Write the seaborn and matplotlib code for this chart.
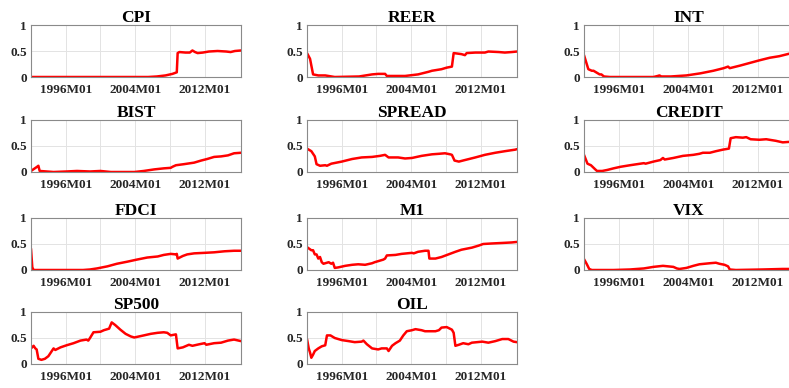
import matplotlib
matplotlib.use("Agg")
import matplotlib.pyplot as plt
import seaborn as sns
import pandas as pd

# ---- data (decimal years, values) ----
titles = ["CPI", "REER", "INT", "BIST", "SPREAD", "CREDIT", "FDCI", "M1", "VIX", "SP500", "OIL"]

cpi_x = [1992.0, 2005.5, 2006.5, 2007.5, 2008.3, 2008.8, 2008.9, 2009.1, 2009.8, 2010.3, 2010.6, 2010.9, 2011.2, 2011.8, 2012.5, 2013.5, 2014.5, 2015.0, 2015.5, 2016.2]
cpi_y = [0.0, 0.0, 0.01, 0.03, 0.06, 0.09, 0.46, 0.48, 0.47, 0.47, 0.51, 0.48, 0.46, 0.47, 0.49, 0.50, 0.49, 0.48, 0.50, 0.51]

reer_x = [1992.0, 1992.35, 1992.7, 1993.3, 1994.1, 1995.2, 1998.0, 1999.5, 2000.2, 2001.0, 2001.2, 2003.3, 2004.8, 2006.0, 2006.4, 2007.5, 2008.1, 2008.7, 2008.9, 2009.8, 2010.2, 2010.4, 2011.4, 2012.5, 2012.9, 2014.1, 2014.8, 2015.6, 2016.2]
reer_y = [0.46, 0.35, 0.05, 0.03, 0.03, 0.0, 0.01, 0.05, 0.06, 0.06, 0.02, 0.02, 0.05, 0.10, 0.12, 0.15, 0.18, 0.20, 0.46, 0.44, 0.42, 0.46, 0.47, 0.47, 0.49, 0.48, 0.47, 0.48, 0.49]

int_x = [1992.0, 1992.5, 1992.9, 1993.1, 1993.5, 1993.8, 1994.0, 1994.3, 1995.0, 2000.0, 2000.5, 2000.7, 2000.9, 2002.0, 2003.8, 2005.4, 2006.9, 2008.1, 2008.6, 2008.8, 2010.0, 2011.1, 2012.2, 2013.4, 2014.5, 2015.7, 2016.2]
int_y = [0.42, 0.15, 0.12, 0.12, 0.08, 0.05, 0.05, 0.01, 0.0, 0.0, 0.02, 0.03, 0.01, 0.01, 0.03, 0.07, 0.12, 0.17, 0.20, 0.17, 0.22, 0.27, 0.32, 0.37, 0.40, 0.45, 0.47]

bist_x = [1992.0, 1992.7, 1992.85, 1993.0, 1993.8, 1994.6, 1996.1, 1997.3, 1998.8, 2000.0, 2001.2, 2003.9, 2005.0, 2006.2, 2007.3, 2008.1, 2008.3, 2008.7, 2009.6, 2010.8, 2011.6, 2012.3, 2013.1, 2013.9, 2014.7, 2015.4, 2016.2]
bist_y = [0.02, 0.10, 0.12, 0.02, 0.01, 0.0, 0.01, 0.02, 0.01, 0.02, 0.0, 0.0, 0.02, 0.05, 0.07, 0.08, 0.10, 0.13, 0.15, 0.18, 0.22, 0.25, 0.29, 0.30, 0.32, 0.36, 0.37]

spread_x = [1992.0, 1992.5, 1992.9, 1993.1, 1993.5, 1994.1, 1994.3, 1994.8, 1996.0, 1997.2, 1998.3, 1999.5, 2000.4, 2001.0, 2001.4, 2002.5, 2003.3, 2004.1, 2005.2, 2006.4, 2007.2, 2007.9, 2008.5, 2008.7, 2009.0, 2009.5, 2010.2, 2011.4, 2012.5, 2013.7, 2014.8, 2016.0, 2016.2]
spread_y = [0.45, 0.40, 0.30, 0.15, 0.12, 0.13, 0.12, 0.16, 0.20, 0.25, 0.28, 0.29, 0.31, 0.33, 0.28, 0.28, 0.26, 0.27, 0.31, 0.34, 0.35, 0.36, 0.34, 0.33, 0.22, 0.20, 0.23, 0.28, 0.33, 0.37, 0.40, 0.43, 0.44]

credit_x = [1992.0, 1992.4, 1992.8, 1993.3, 1993.5, 1994.1, 1994.7, 1995.4, 1996.2, 1997.3, 1998.1, 1998.9, 1999.1, 2000.0, 2000.8, 2001.1, 2001.3, 2002.3, 2003.4, 2004.6, 2005.3, 2005.7, 2006.5, 2007.2, 2008.0, 2008.7, 2008.9, 2009.5, 2010.3, 2010.7, 2011.2, 2012.2, 2013.0, 2014.1, 2014.9, 2015.7, 2016.2]
credit_y = [0.33, 0.16, 0.13, 0.05, 0.02, 0.02, 0.04, 0.07, 0.10, 0.13, 0.15, 0.17, 0.16, 0.20, 0.23, 0.27, 0.24, 0.27, 0.31, 0.33, 0.35, 0.37, 0.37, 0.40, 0.43, 0.45, 0.65, 0.67, 0.66, 0.67, 0.63, 0.62, 0.63, 0.60, 0.57, 0.58, 0.58]

fdci_x = [1992.0, 1992.15, 1992.3, 1998.0, 1998.8, 1999.6, 2000.8, 2001.9, 2003.1, 2004.2, 2005.4, 2006.6, 2007.3, 2008.1, 2008.7, 2008.8, 2008.9, 2009.5, 2010.0, 2010.8, 2012.0, 2013.1, 2014.3, 2015.4, 2016.2]
fdci_y = [0.41, 0.05, 0.0, 0.0, 0.01, 0.03, 0.07, 0.12, 0.16, 0.20, 0.24, 0.26, 0.29, 0.31, 0.30, 0.31, 0.22, 0.27, 0.30, 0.32, 0.33, 0.34, 0.36, 0.37, 0.37]

m1_x = [1992.0, 1992.5, 1992.7, 1992.9, 1993.1, 1993.3, 1993.5, 1993.7, 1993.9, 1994.5, 1994.8, 1995.0, 1995.2, 1995.6, 1996.4, 1997.2, 1997.9, 1998.7, 1999.5, 1999.8, 2000.4, 2000.8, 2001.0, 2001.2, 2002.2, 2002.9, 2004.1, 2004.3, 2004.8, 2005.6, 2006.0, 2006.1, 2006.8, 2007.5, 2008.3, 2009.1, 2009.8, 2011.0, 2011.8, 2012.3, 2013.3, 2014.5, 2015.6, 2016.2]
m1_y = [0.44, 0.38, 0.38, 0.30, 0.30, 0.22, 0.25, 0.15, 0.12, 0.15, 0.12, 0.14, 0.04, 0.05, 0.08, 0.10, 0.11, 0.10, 0.13, 0.15, 0.18, 0.20, 0.22, 0.28, 0.29, 0.31, 0.33, 0.32, 0.35, 0.37, 0.37, 0.22, 0.22, 0.25, 0.30, 0.35, 0.39, 0.43, 0.47, 0.50, 0.51, 0.52, 0.53, 0.54]

vix_x = [1992.0, 1992.3, 1992.6, 1992.9, 1995.4, 1997.3, 1998.9, 2000.0, 2001.1, 2002.3, 2002.7, 2003.0, 2003.8, 2004.6, 2005.3, 2006.5, 2007.2, 2007.6, 2008.2, 2008.6, 2008.8, 2009.5, 2012.6, 2014.9, 2016.2]
vix_y = [0.21, 0.12, 0.02, 0.0, 0.0, 0.01, 0.03, 0.06, 0.08, 0.06, 0.03, 0.02, 0.04, 0.08, 0.11, 0.13, 0.14, 0.12, 0.10, 0.07, 0.01, 0.0, 0.01, 0.02, 0.02]

sp500_x = [1992.0, 1992.3, 1992.5, 1992.65, 1992.85, 1993.2, 1993.6, 1994.0, 1994.2, 1994.6, 1994.8, 1995.4, 1996.1, 1996.9, 1997.7, 1998.4, 1998.6, 1998.8, 1999.2, 2000.0, 2000.4, 2001.0, 2001.3, 2001.7, 2002.3, 2002.9, 2003.5, 2003.9, 2005.0, 2005.8, 2006.6, 2007.3, 2007.7, 2008.1, 2008.7, 2008.9, 2009.5, 2010.2, 2010.6, 2011.4, 2012.0, 2012.2, 2013.1, 2013.9, 2014.7, 2015.4, 2016.2]
sp500_y = [0.30, 0.35, 0.30, 0.28, 0.10, 0.08, 0.10, 0.15, 0.20, 0.30, 0.27, 0.32, 0.36, 0.40, 0.45, 0.47, 0.45, 0.50, 0.61, 0.62, 0.65, 0.68, 0.80, 0.75, 0.66, 0.58, 0.53, 0.51, 0.55, 0.58, 0.60, 0.61, 0.60, 0.55, 0.57, 0.30, 0.32, 0.37, 0.35, 0.38, 0.40, 0.37, 0.40, 0.41, 0.45, 0.47, 0.44]

oil_x = [1992.0, 1992.2, 1992.35, 1992.5, 1992.7, 1992.9, 1993.3, 1993.7, 1994.1, 1994.3, 1994.7, 1995.2, 1996.0, 1996.8, 1997.5, 1998.3, 1998.5, 1998.9, 1999.5, 2000.2, 2000.6, 2001.2, 2001.4, 2001.8, 2002.2, 2002.7, 2003.1, 2003.5, 2004.1, 2004.5, 2005.2, 2005.6, 2006.8, 2007.2, 2007.5, 2008.1, 2008.7, 2008.9, 2009.1, 2009.5, 2010.0, 2010.6, 2011.0, 2012.2, 2012.9, 2013.7, 2014.5, 2015.2, 2015.8, 2016.2]
oil_y = [0.48, 0.30, 0.22, 0.12, 0.18, 0.25, 0.30, 0.34, 0.36, 0.55, 0.55, 0.50, 0.46, 0.44, 0.42, 0.43, 0.45, 0.38, 0.30, 0.28, 0.30, 0.30, 0.25, 0.35, 0.40, 0.45, 0.55, 0.63, 0.65, 0.67, 0.65, 0.63, 0.63, 0.65, 0.70, 0.71, 0.66, 0.60, 0.35, 0.37, 0.40, 0.38, 0.41, 0.43, 0.41, 0.44, 0.48, 0.48, 0.43, 0.42]

series_x = [cpi_x, reer_x, int_x, bist_x, spread_x, credit_x, fdci_x, m1_x, vix_x, sp500_x, oil_x]
series_y = [cpi_y, reer_y, int_y, bist_y, spread_y, credit_y, fdci_y, m1_y, vix_y, sp500_y, oil_y]

xtick_pos = [1996, 2000, 2004, 2008, 2012]
xtick_labels = ["1996M01", "", "2004M01", "", "2012M01"]
ytick_pos = [0, 0.5, 1]
ytick_labels = ["0", "0.5", "1"]

# ---- figure ----
sns.set_theme(style="whitegrid")
plt.rcParams["font.family"] = ["Liberation Serif", "DejaVu Serif"]

W, H = 789, 388
fig = plt.figure(figsize=(W / 100, H / 100), dpi=100)
fig.patch.set_facecolor("white")

col_left = [31, 307, 584]
row_top = [25, 120, 218, 312]
aw, ah = 210, 52

for i, (title, xs, ys) in enumerate(zip(titles, series_x, series_y)):
    r, c = divmod(i, 3)
    ax = fig.add_axes([col_left[c] / W, 1 - (row_top[r] + ah) / H, aw / W, ah / H])
    df = pd.DataFrame({"date": xs, "value": ys})
    sns.lineplot(data=df, x="date", y="value", ax=ax, color="#ff0000", linewidth=1.8)
    ax.set_xlim(1992.0, 2016.2)
    ax.set_ylim(0, 1)
    ax.set_xticks(xtick_pos)
    ax.set_xticklabels(xtick_labels, fontsize=9.5, fontweight="bold", color="#262626")
    ax.set_yticks(ytick_pos)
    ax.set_yticklabels(ytick_labels, fontsize=9.5, fontweight="bold", color="#262626")
    ax.set_xlabel("")
    ax.set_ylabel("")
    ax.set_title(title, fontsize=12.5, fontweight="bold", pad=2, color="black")
    ax.grid(True, color="#e3e3e3", linewidth=0.7)
    ax.set_facecolor("white")
    for s in ax.spines.values():
        s.set_color("#8a8a8a")
        s.set_linewidth(0.8)
    ax.tick_params(axis="x", direction="in", length=2, pad=5, color="#8a8a8a")
    ax.tick_params(axis="y", direction="in", length=2, pad=3, color="#8a8a8a")

fig.savefig("out.png", dpi=100)
